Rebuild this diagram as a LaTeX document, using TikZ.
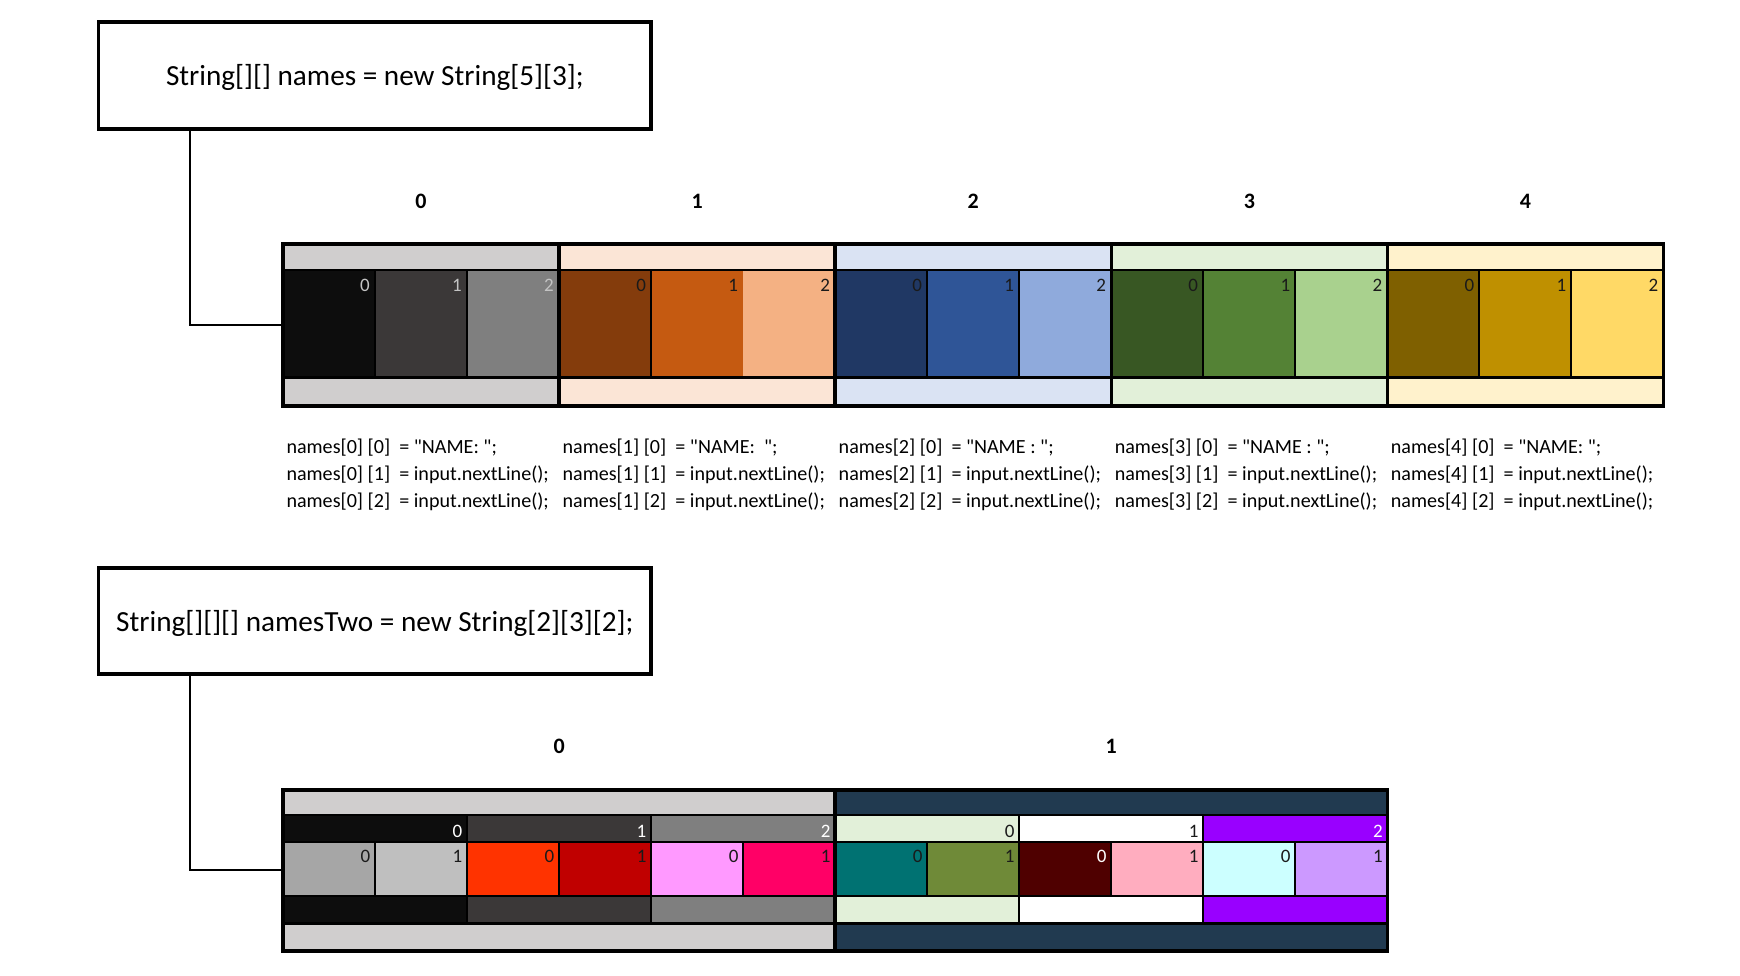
\documentclass[tikz,border=0pt]{standalone}
\usepackage{fontspec}
\setmainfont{Carlito}[Ligatures=TeXOff]
\definecolor{tA}{HTML}{D0CECE}\definecolor{tA0}{HTML}{0D0D0D}\definecolor{tA1}{HTML}{3B3838}\definecolor{tA2}{HTML}{7F7F7F}
\definecolor{tB}{HTML}{FBE5D6}\definecolor{tB0}{HTML}{843C0C}\definecolor{tB1}{HTML}{C55A11}\definecolor{tB2}{HTML}{F4B183}
\definecolor{tC}{HTML}{DAE3F3}\definecolor{tC0}{HTML}{203864}\definecolor{tC1}{HTML}{2F5597}\definecolor{tC2}{HTML}{8FAADC}
\definecolor{tD}{HTML}{E2F0D9}\definecolor{tD0}{HTML}{385723}\definecolor{tD1}{HTML}{548235}\definecolor{tD2}{HTML}{A9D18E}
\definecolor{tE}{HTML}{FFF2CC}\definecolor{tE0}{HTML}{7F6000}\definecolor{tE1}{HTML}{BF9000}\definecolor{tE2}{HTML}{FFD966}
\definecolor{labL}{HTML}{C4C4C4}\definecolor{labD}{HTML}{1A1A1A}
\definecolor{bB}{HTML}{213A50}\definecolor{bP}{HTML}{9900FF}
\definecolor{bc1}{HTML}{A6A6A6}\definecolor{bc2}{HTML}{BFBFBF}\definecolor{bc3}{HTML}{FF3300}
\definecolor{bc4}{HTML}{C00000}\definecolor{bc5}{HTML}{FF99FF}\definecolor{bc6}{HTML}{FF0066}
\definecolor{bc7}{HTML}{007272}\definecolor{bc8}{HTML}{6F8A38}\definecolor{bc9}{HTML}{4F0000}
\definecolor{bc10}{HTML}{FFADBF}\definecolor{bc11}{HTML}{CCFFFF}\definecolor{bc12}{HTML}{CC99FF}
\begin{document}
\begin{tikzpicture}[x=1pt,y=-1pt,
  declbox/.style={draw=black,line width=3.8pt,minimum width=552.5pt,inner sep=0pt,text height=25pt,text depth=5pt,font=\fontsize{29.2}{34}\selectfont},
  idx/.style={anchor=base,inner sep=0pt,font=\fontsize{22}{26}\selectfont\bfseries},
  codeln/.style={anchor=base west,inner sep=0pt,font=\fontsize{20.1}{26}\selectfont},
  clab/.style={anchor=base east,inner sep=0pt,font=\fontsize{19}{22}\selectfont},
  conn/.style={draw=black,line width=2pt},
  outerln/.style={draw=black,line width=3.6pt},
  hline/.style={draw=black,line width=2.4pt},
  thinln/.style={draw=black,line width=2pt}]
\path[use as bounding box] (0,0) rectangle (1740,976);

% ---------- declaration 1 ----------
\node[declbox,minimum height=107pt] (decl1) at (374.8,75.6) {String[][] names = new String[5][3];};
\coordinate (arr1w) at (283,325.1);
\draw[conn] ([xshift=93.4pt]decl1.south west) |- (arr1w);

% ---------- top array ----------
\foreach \g/\band/\ca/\cb/\cc/\lab in {0/tA/tA0/tA1/tA2/labL,1/tB/tB0/tB1/tB2/labD,2/tC/tC0/tC1/tC2/labD,3/tD/tD0/tD1/tD2/labD,4/tE/tE0/tE1/tE2/labD}{
  \pgfmathsetmacro{\xl}{283+\g*276.1}
  \fill[\band] (\xl,244) rectangle ++(276.1,26);
  \fill[\band] (\xl,377.6) rectangle ++(276.1,28.4);
  \fill[\ca] (\xl,270) rectangle ++(92.03,107.6);
  \fill[\cb] (\xl+92.03,270) rectangle ++(92.03,107.6);
  \fill[\cc] (\xl+184.07,270) rectangle ++(92.03,107.6);
  \foreach \c in {0,1,2}{
    \node[clab,text=\lab] (t\g-c\c) at (\xl+92.03*\c+87,291) {\c};
  }
  \node[idx] (ti\g) at (\xl+138.05,209) {\g};
  \node[codeln] (l\g-b) at (\xl+3.3,480.3) {names[\g] [1]\ \ = input.nextLine();};
  \node[codeln] (l\g-c) at (\xl+3.3,507.2) {names[\g] [2]\ \ = input.nextLine();};
}
\node[codeln] (l0-a) at (286.3,453.5) {names[0] [0]\ \ = "NAME: ";};
\node[codeln] (l1-a) at (562.4,453.5) {names[1] [0]\ \ = "NAME:\ \ ";};
\node[codeln] (l2-a) at (838.5,453.5) {names[2] [0]\ \ = "NAME : ";};
\node[codeln] (l3-a) at (1114.6,453.5) {names[3] [0]\ \ = "NAME : ";};
\node[codeln] (l4-a) at (1390.7,453.5) {names[4] [0]\ \ = "NAME: ";};

\foreach \x in {375.03,467.07,651.13,927.23,1019.27,1203.33,1295.37,1479.43,1571.47}
  \draw[thinln] (\x,270) -- (\x,377.6);
\draw[hline] (283,270) -- (1663.4,270) (283,377.6) -- (1663.4,377.6);
\foreach \g in {1,2,3,4}
  \draw[outerln] (283+\g*276.1,244) -- (283+\g*276.1,406);
\draw[outerln] (283,244) rectangle (1663.4,406);

% ---------- declaration 2 ----------
\node[declbox,minimum height=106pt] (decl2) at (374.8,621) {String[][][] namesTwo = new String[2][3][2];};
\coordinate (arr2w) at (283,870);
\draw[conn] ([xshift=93.4pt]decl2.south west) |- (arr2w);

% ---------- bottom array ----------
\fill[tA] (283,790) rectangle (835.2,815.2);
\fill[tA] (283,923.5) rectangle (835.2,951);
\fill[bB] (835.2,790) rectangle (1387.4,815.2);
\fill[bB] (835.2,923.5) rectangle (1387.4,951);
\foreach \k/\col/\lab/\n in {0/tA0/white/0,1/tA1/white/1,2/tA2/white/2,3/tD/labD/0,4/white/labD/1,5/bP/white/2}{
  \pgfmathsetmacro{\xb}{283+\k*184.07}
  \fill[\col] (\xb,815.2) rectangle ++(184.07,26.8);
  \fill[\col] (\xb,895.7) rectangle ++(184.07,27.8);
  \node[clab,text=\lab] (bb\k) at (\xb+179.5,837) {\n};
}
\foreach \k/\col/\lab/\n in {0/bc1/labD/0,1/bc2/labD/1,2/bc3/labD/0,3/bc4/labD/1,4/bc5/labD/0,5/bc6/labD/1,6/bc7/labD/0,7/bc8/labD/1,8/bc9/white/0,9/bc10/labD/1,10/bc11/labD/0,11/bc12/labD/1}{
  \pgfmathsetmacro{\xc}{283+\k*92.03}
  \fill[\col] (\xc,842) rectangle ++(92.03,53.7);
  \node[clab,text=\lab] (bc\k) at (\xc+87.5,862.5) {\n};
}
\node[idx] (bi0) at (559.1,753.7) {0};
\node[idx] (bi1) at (1111.3,753.7) {1};

\foreach \x in {467.07,651.13,1019.27,1203.33}
  \draw[thinln] (\x,815.2) -- (\x,842) (\x,895.7) -- (\x,923.5);
\foreach \k in {1,2,3,4,5,7,8,9,10,11}
  \draw[thinln] (283+\k*92.03,842) -- (283+\k*92.03,895.7);
\draw[hline] (283,815.2) -- (1387.4,815.2) (283,842) -- (1387.4,842)
             (283,895.7) -- (1387.4,895.7) (283,923.5) -- (1387.4,923.5);
\draw[outerln] (835.2,790) -- (835.2,951);
\draw[outerln] (283,790) rectangle (1387.4,951);
\end{tikzpicture}
\end{document}
